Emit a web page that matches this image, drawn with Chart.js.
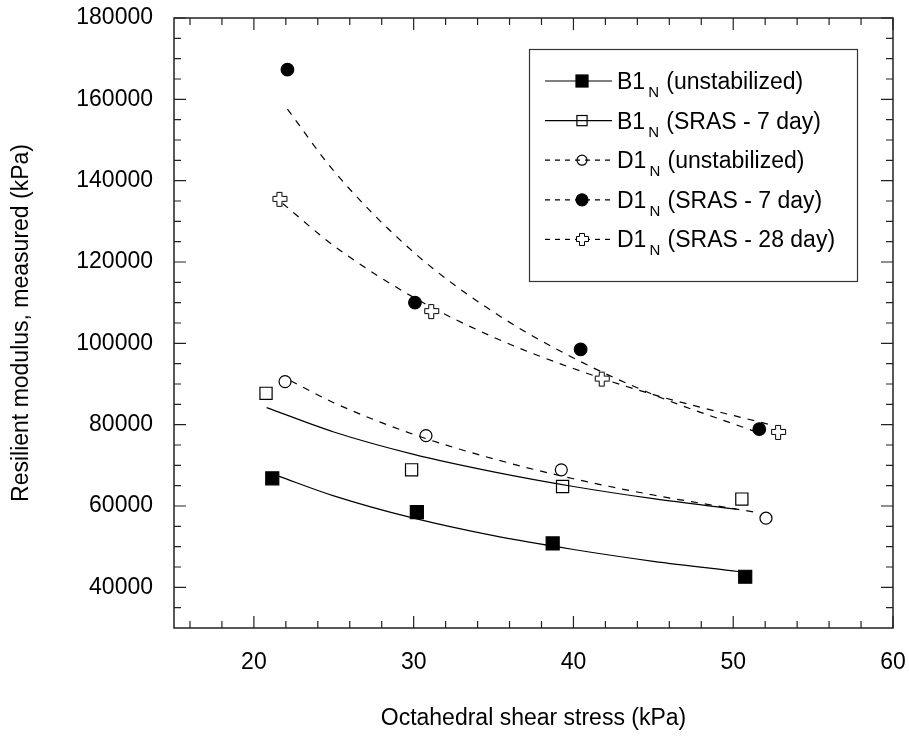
<!DOCTYPE html>
<html>
<head>
<meta charset="utf-8">
<script src="https://cdn.jsdelivr.net/npm/chart.js@4.4.0/dist/chart.umd.min.js"></script>
<style>
  html, body { margin: 0; padding: 0; background: #fff; }
  #wrap { width: 909px; height: 738px; }
</style>
</head>
<body>
<div id="wrap"><canvas id="chart" width="909" height="738"></canvas></div>
<script>
(function () {
    "use strict";

    // Measured points (octahedral shear stress kPa, resilient modulus kPa)
    var b1UnstabX = [21.15, 30.2, 38.7, 50.75];
    var b1UnstabY = [66800, 58500, 50800, 42600];
    var b1Sras7X = [20.76, 29.87, 39.32, 50.54];
    var b1Sras7Y = [87700, 68900, 64800, 61700];
    var d1UnstabX = [21.95, 30.77, 39.24, 52.05];
    var d1UnstabY = [90600, 77300, 68900, 57000];
    var d1Sras7X = [22.1, 30.08, 40.45, 51.63];
    var d1Sras7Y = [167300, 110000, 98500, 78900];
    var d1Sras28X = [21.63, 31.13, 41.8, 52.84];
    var d1Sras28Y = [135400, 107800, 91200, 78100];

    // Fitted curves
    var fitB1UnstabX = [21.5, 25, 30, 35, 40, 45, 50.3];
    var fitB1UnstabY = [67400, 62500, 57000, 52700, 49300, 46400, 43900];
    var fitB1Sras7X = [20.8, 25, 30, 35, 40, 45, 50.2];
    var fitB1Sras7Y = [84200, 78200, 72700, 68400, 64800, 61800, 59200];
    var fitD1UnstabX = [22.3, 25, 30, 35, 40, 45, 51.5];
    var fitD1UnstabY = [90800, 85400, 77600, 71600, 66700, 62700, 58400];
    var fitD1Sras7X = [22.1, 25, 30, 35, 40, 45, 51.3];
    var fitD1Sras7Y = [157600, 142400, 122400, 107700, 96400, 87400, 78400];
    var fitD1Sras28X = [21.8, 25, 30, 35, 40, 45, 52.5];
    var fitD1Sras28Y = [134400, 124000, 111300, 101500, 93800, 87400, 79800];

    // Axis ticks
    var xTickLabels = [20, 30, 40, 50, 60];
    var yTickLabels = [40000, 60000, 80000, 100000, 120000, 140000, 160000, 180000];

    // Legend text
    var legendMain = ['B1', 'B1', 'D1', 'D1', 'D1'];
    var legendSub = 'N';
    var legendRest = [' (unstabilized)', ' (SRAS - 7 day)', ' (unstabilized)', ' (SRAS - 7 day)', ' (SRAS - 28 day)'];


    var fontFamily = '"Liberation Sans", Arial, sans-serif';
    var dash = [7, 7];

    function pts(xs, ys) {
        return xs.map(function (x, i) { return {x: x, y: ys[i]}; });
    }

    // hollow plus marker
    function makeCross(s) {
        var c = document.createElement('canvas');
        c.width = s + 3; c.height = s + 3;
        var g = c.getContext('2d');
        var w = Math.round(s * 0.38), a = Math.floor((s - w) / 2), b = a + w, o = 1.5;
        g.beginPath();
        g.moveTo(o + a, o); g.lineTo(o + b, o); g.lineTo(o + b, o + a); g.lineTo(o + s, o + a);
        g.lineTo(o + s, o + b); g.lineTo(o + b, o + b); g.lineTo(o + b, o + s); g.lineTo(o + a, o + s);
        g.lineTo(o + a, o + b); g.lineTo(o, o + b); g.lineTo(o, o + a); g.lineTo(o + a, o + a);
        g.closePath();
        g.fillStyle = '#fff'; g.fill();
        g.lineWidth = 1; g.strokeStyle = '#000'; g.stroke();
        return c;
    }
    var crossImg = makeCross(14);
    var crossLegend = makeCross(12);

    var series = [
        {fx: fitB1UnstabX, fy: fitB1UnstabY, px: b1UnstabX, py: b1UnstabY, dashed: false, style: 'rect', r: 9.2, fill: '#000', lr: 8.5},
        {fx: fitB1Sras7X, fy: fitB1Sras7Y, px: b1Sras7X, py: b1Sras7Y, dashed: false, style: 'rect', r: 8.6, fill: 'rgba(0,0,0,0)', lr: 7.2},
        {fx: fitD1UnstabX, fy: fitD1UnstabY, px: d1UnstabX, py: d1UnstabY, dashed: true, style: 'circle', r: 6, fill: 'rgba(0,0,0,0)', lr: 5},
        {fx: fitD1Sras7X, fy: fitD1Sras7Y, px: d1Sras7X, py: d1Sras7Y, dashed: true, style: 'circle', r: 6.3, fill: '#000', lr: 6},
        {fx: fitD1Sras28X, fy: fitD1Sras28Y, px: d1Sras28X, py: d1Sras28Y, dashed: true, style: crossImg, r: 7, fill: '#fff', lr: 6}
    ];

    var datasets = [];
    series.forEach(function (s, i) {
        datasets.push({
            label: legendMain[i] + legendSub + legendRest[i] + ' fit',
            data: pts(s.fx, s.fy),
            borderColor: '#000',
            borderWidth: 1.2,
            borderDash: s.dashed ? dash : [],
            pointRadius: 0,
            cubicInterpolationMode: 'monotone',
            fill: false,
            order: 2
        });
        datasets.push({
            label: legendMain[i] + legendSub + legendRest[i],
            data: pts(s.px, s.py),
            showLine: false,
            pointStyle: s.style,
            pointRadius: s.r,
            pointBackgroundColor: s.fill,
            pointBorderColor: '#000',
            pointBorderWidth: 1.2,
            order: 1
        });
    });


    // Frame + inward major/minor ticks on all four sides
    var framePlugin = {
        id: 'frame',
        afterDatasetsDraw: function (chart) {
            var ctx = chart.ctx, a = chart.chartArea;
            var sx = chart.scales.x, sy = chart.scales.y;
            ctx.save();
            ctx.strokeStyle = '#222';
            ctx.lineWidth = 1.5;
            ctx.strokeRect(a.left, a.top, a.right - a.left, a.bottom - a.top);
            ctx.lineWidth = 1.2;
            ctx.beginPath();
            var v, p, len;
            for (v = 16; v <= 60; v += 2) {
                p = sx.getPixelForValue(v);
                len = xTickLabels.indexOf(v) >= 0 ? 12 : 7;
                ctx.moveTo(p, a.bottom); ctx.lineTo(p, a.bottom - len);
                ctx.moveTo(p, a.top); ctx.lineTo(p, a.top + len);
            }
            for (v = 35000; v <= 180000; v += 5000) {
                p = sy.getPixelForValue(v);
                len = yTickLabels.indexOf(v) >= 0 ? 12 : 7;
                ctx.moveTo(a.left, p); ctx.lineTo(a.left + len, p);
                ctx.moveTo(a.right, p); ctx.lineTo(a.right - len, p);
            }
            ctx.stroke();
            ctx.restore();
        }
    };

    // Legend with line sample, marker and subscript N
    var legendPlugin = {
        id: 'customLegend',
        afterDraw: function (chart) {
            var ctx = chart.ctx;
            var box = {left: 529, top: 49, right: 857, bottom: 281};
            ctx.save();
            ctx.fillStyle = '#fff';
            ctx.fillRect(box.left, box.top, box.right - box.left, box.bottom - box.top);
            ctx.strokeStyle = '#333';
            ctx.lineWidth = 1.2;
            ctx.strokeRect(box.left + 0.5, box.top + 0.5, box.right - box.left, box.bottom - box.top);

            series.forEach(function (s, i) {
                var y = box.top + 32 + i * 39.6;
                var x0 = 545, x1 = 612, mx = 582;
                ctx.strokeStyle = '#000';
                ctx.lineWidth = 1.2;
                ctx.setLineDash(s.dashed ? [5, 5] : []);
                ctx.beginPath();
                ctx.moveTo(x0, y); ctx.lineTo(x1, y);
                ctx.stroke();
                ctx.setLineDash([]);

                if (s.style === 'rect') {
                    var h = s.lr * Math.SQRT1_2;
                    if (s.fill === '#000') {
                        ctx.fillStyle = '#000';
                        ctx.fillRect(mx - h, y - h, 2 * h, 2 * h);
                    }
                    ctx.strokeRect(mx - h, y - h, 2 * h, 2 * h);
                } else if (s.style === 'circle') {
                    ctx.beginPath();
                    ctx.arc(mx, y, s.lr, 0, Math.PI * 2);
                    if (s.fill === '#000') { ctx.fillStyle = '#000'; ctx.fill(); }
                    ctx.stroke();
                } else {
                    ctx.drawImage(crossLegend, Math.round(mx - crossLegend.width / 2), Math.round(y - crossLegend.height / 2));
                }

                ctx.fillStyle = '#000';
                ctx.textBaseline = 'alphabetic';
                ctx.textAlign = 'left';
                var base = y + 8;
                ctx.font = '23px ' + fontFamily;
                var tx = 617;
                ctx.fillText(legendMain[i], tx, base);
                tx += ctx.measureText(legendMain[i]).width + 3;
                ctx.font = '15px ' + fontFamily;
                ctx.fillText(legendSub, tx, base + 8);
                tx += ctx.measureText(legendSub).width + 1;
                ctx.font = '23px ' + fontFamily;
                ctx.fillText(legendRest[i], tx, base);
            });
            ctx.restore();
        }
    };

    var tickFont = {family: fontFamily, size: 23};

    new Chart(document.getElementById('chart').getContext('2d'), {
        type: 'line',
        data: {datasets: datasets},
        options: {
            responsive: false,
            animation: false,
            layout: {padding: {left: 0, top: 18, right: 16, bottom: 0}},
            plugins: {legend: {display: false}, tooltip: {enabled: false}},
            scales: {
                x: {
                    type: 'linear',
                    min: 15,
                    max: 60,
                    afterBuildTicks: function (s) { s.ticks = xTickLabels.map(function (v) { return {value: v}; }); },
                    afterFit: function (s) { s.height = 110; s.paddingLeft = 0; s.paddingRight = 0; },
                    grid: {display: false, drawTicks: false},
                    border: {display: false},
                    ticks: {font: tickFont, color: '#000', padding: 21, maxRotation: 0, autoSkip: false},
                    title: {display: true, text: 'Octahedral shear stress (kPa)', font: tickFont, color: '#000', padding: {top: 0, bottom: 6}}
                },
                y: {
                    type: 'linear',
                    min: 30000,
                    max: 180000,
                    afterBuildTicks: function (s) { s.ticks = yTickLabels.map(function (v) { return {value: v}; }); },
                    afterFit: function (s) { s.width = 174; s.paddingTop = 0; s.paddingBottom = 0; },
                    grid: {display: false, drawTicks: false},
                    border: {display: false},
                    ticks: {font: tickFont, color: '#000', padding: 21, autoSkip: false, callback: function (v) { return String(v); }},
                    title: {display: true, text: 'Resilient modulus, measured (kPa)', font: tickFont, color: '#000', padding: {top: 8, bottom: 0}}
                }
            }
        },
        plugins: [framePlugin, legendPlugin]
    });
})();
</script>
</body>
</html>
